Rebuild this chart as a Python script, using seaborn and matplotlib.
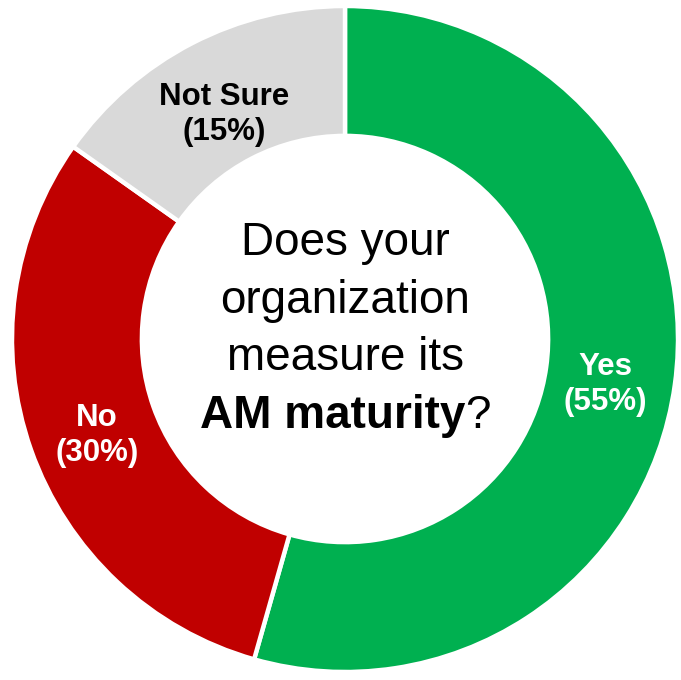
import numpy as np
import matplotlib
matplotlib.use("Agg")
import matplotlib.pyplot as plt
import seaborn as sns

sns.set_theme(style="white")
plt.rcParams['font.family'] = ['Liberation Sans', 'DejaVu Sans']

categories = ["Yes", "No", "Not Sure"]
values = [54.4, 30.4, 15.2]          # slice shares as drawn
pct_labels = ["55%", "30%", "15%"]   # percentages as printed on the chart
colors = ["#00B050", "#C00000", "#D9D9D9"]
label_colors = ["white", "white", "black"]
question_lines = ["Does your", "organization", "measure its"]
question_bold = "AM maturity"
question_tail = "?"

W, H = 681, 680
fig = plt.figure(figsize=(W / 100, H / 100), dpi=100)
ax = fig.add_axes([0, 0, 1, 1])
R = 333.0
cx, cy = 345.0, 339.0

wedges, _ = ax.pie(values, colors=colors, startangle=90, counterclock=False,
                   radius=1.0,
                   wedgeprops=dict(width=0.39, edgecolor='white', linewidth=3.2))
ax.set_xlim(-cx / R, (W - cx) / R)
ax.set_ylim(-(H - cy) / R, cy / R)
ax.set_aspect('equal')
ax.axis('off')

total = sum(values)
start = 90.0
for cat, v, pl, lc in zip(categories, values, pct_labels, label_colors):
    span = 360.0 * v / total
    mid = np.deg2rad(start - span / 2)
    start -= span
    r = 0.79
    ax.text(r * np.cos(mid), r * np.sin(mid) - 9 / R, f"{cat}\n({pl})", ha='center', va='center',
            color=lc, fontsize=22.5, fontweight='bold', linespacing=1.2)

# center question
baselines_px = [255, 313, 370, 428]
for line, by in zip(question_lines, baselines_px[:3]):
    ax.text(0, (cy - by) / R, line, ha='center', va='baseline', fontsize=33, color='black')

yb = (cy - baselines_px[3]) / R
t1 = ax.text(0, yb, question_bold, ha='right', va='baseline', fontsize=33, fontweight='bold', color='black')
t2 = ax.text(0, yb, question_tail, ha='left', va='baseline', fontsize=33, color='black')
fig.canvas.draw()
rend = fig.canvas.get_renderer()
w1 = t1.get_window_extent(rend).width
w2 = t2.get_window_extent(rend).width
shift = (w1 - w2) / 2 / R
t1.set_x(shift)
t2.set_x(shift)

fig.savefig("out.png", dpi=100)
